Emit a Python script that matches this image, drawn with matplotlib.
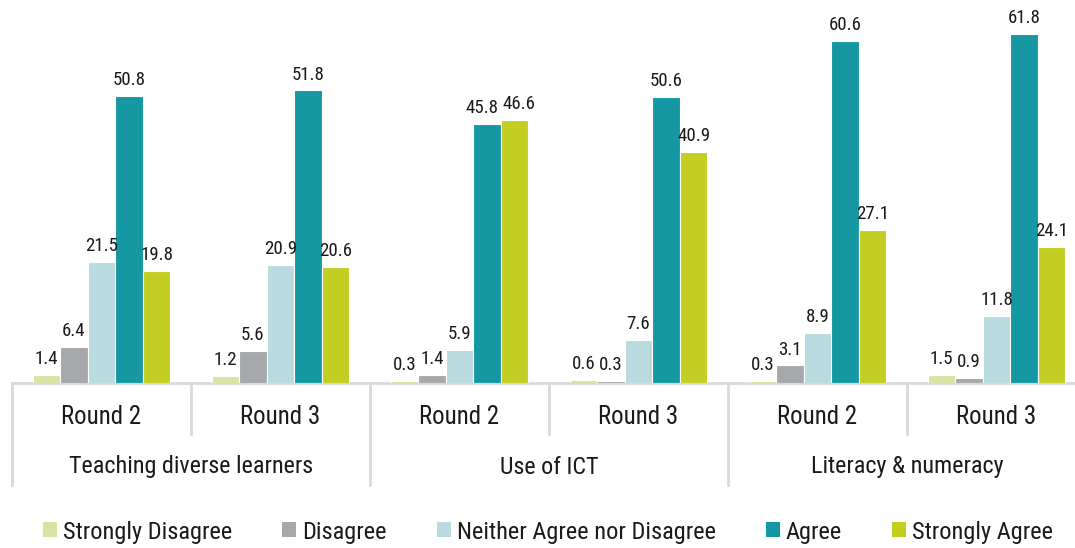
import matplotlib
matplotlib.use("Agg")
import matplotlib.pyplot as plt
from matplotlib.patches import Patch
from matplotlib import font_manager as fm
import numpy as np

topics = ["Teaching diverse learners", "Use of ICT", "Literacy & numeracy"]
rounds = ["Round 2", "Round 3"]
series = ["Strongly Disagree", "Disagree", "Neither Agree nor Disagree", "Agree", "Strongly Agree"]
strongly_disagree = [1.4, 1.2, 0.3, 0.6, 0.3, 1.5]
disagree = [6.4, 5.6, 1.4, 0.3, 3.1, 0.9]
neither = [21.5, 20.9, 5.9, 7.6, 8.9, 11.8]
agree = [50.8, 51.8, 45.8, 50.6, 60.6, 61.8]
strongly_agree = [19.8, 20.6, 46.6, 40.9, 27.1, 24.1]
colors = ["#dbe2a2", "#a7a8ac", "#b9dbdf", "#1698a3", "#c2cf22"]
values = [strongly_disagree, disagree, neither, agree, strongly_agree]

# pick a narrow font if one is installed
paths = [f.fname for f in fm.fontManager.ttflist]
pref = ["LiberationSansNarrow-Regular", "RobotoCondensed-Regular", "DejaVuSansCondensed.ttf",
        "Roboto-Regular"]
chosen = None
for p in pref:
    hits = [q for q in paths if p in q.split("/")[-1]]
    if hits:
        chosen = hits[0]
        break
if chosen is None:
    prop = fm.FontProperties(family="DejaVu Sans")
else:
    prop = fm.FontProperties(fname=chosen)
TXT = "#1a1a1a"

W, H = 1075, 548
fig = plt.figure(figsize=(W / 100, H / 100), dpi=100)
renderer = fig.canvas.get_renderer()


def fit_size(text, target_px):
    t = fig.text(0, 0, text, fontproperties=prop, fontsize=20)
    w = t.get_window_extent(renderer).width
    t.remove()
    return 20 * target_px / w


fs_num = fit_size("50.8", 33)
fs_round = fit_size("Round 2", 80)
fs_topic = fit_size("Teaching diverse learners", 244)
fs_leg = fit_size("Strongly Disagree", 169)

px_per_unit = 5.647
base_y = 383
ax_h = base_y
ax = fig.add_axes([12 / W, (H - base_y) / H, 1074 / W, ax_h / H])
ax.set_xlim(0, 6)
ax.set_ylim(0, ax_h / px_per_unit)

n = len(series)
bw = 0.77 / n
x = np.arange(6) + 0.5
labels = [[None] * n for _ in range(6)]
for i, (vals, c, name) in enumerate(zip(values, colors, series)):
    pos = x + (i - (n - 1) / 2) * bw
    ax.bar(pos, vals, width=bw, color=c, edgecolor="white", linewidth=0.8, label=name)
    for g, (p, v) in enumerate(zip(pos, vals)):
        labels[g][i] = ax.annotate(f"{v:.1f}", (p, v), xytext=(0, 5), textcoords="offset points",
                                   ha="center", va="bottom", fontproperties=prop,
                                   fontsize=fs_num, color=TXT)

for s in ax.spines.values():
    s.set_visible(False)
ax.set_xticks([])
ax.set_yticks([])
ax.axhline(0, color="#d9d9d9", lw=2, clip_on=False, zorder=0)

# push apart value labels of neighbouring bars that would collide
for g in range(6):
    for i in range(n - 1):
        a, b = labels[g][i], labels[g][i + 1]
        ba, bb = a.get_window_extent(renderer), b.get_window_extent(renderer)
        if ba.y1 > bb.y0 and bb.y1 > ba.y0:
            overlap = ba.x1 - bb.x0 + 4
            if overlap > 0:
                sh = overlap / 2 * 72 / 100
                xa, ya = a.xyann
                xb, yb = b.xyann
                a.xyann = (xa - sh, ya)
                b.xyann = (xb + sh, yb)

trans = ax.get_xaxis_transform()


def ay(py):
    return (base_y - py) / ax_h


for b in range(7):
    bottom = 485 if b % 2 == 0 else 434
    ax.plot([b, b], [0, ay(bottom)], color="#d9d9d9", lw=2, transform=trans, clip_on=False)

for k in range(6):
    ax.text(k + 0.5, ay(417), rounds[k % 2], transform=trans, ha="center", va="center",
            fontproperties=prop, fontsize=fs_round, color=TXT)
for t, name in enumerate(topics):
    ax.text(2 * t + 1, ay(467), name, transform=trans, ha="center", va="center",
            fontproperties=prop, fontsize=fs_topic, color=TXT)

fpx = fs_leg * 100 / 72
handles = [Patch(facecolor=c, edgecolor="none") for c in colors]
leg_prop = prop.copy()
leg_prop.set_size(fs_leg)
fig.legend(handles, series, loc="center left", bbox_to_anchor=(43 / W, (H - 532) / H), ncol=5,
           frameon=False, prop=leg_prop, handlelength=14 / fpx, handleheight=14 / fpx,
           handletextpad=6 / fpx, columnspacing=50 / fpx, borderpad=0, borderaxespad=0,
           labelcolor=TXT)

fig.savefig("out.png", dpi=100)
